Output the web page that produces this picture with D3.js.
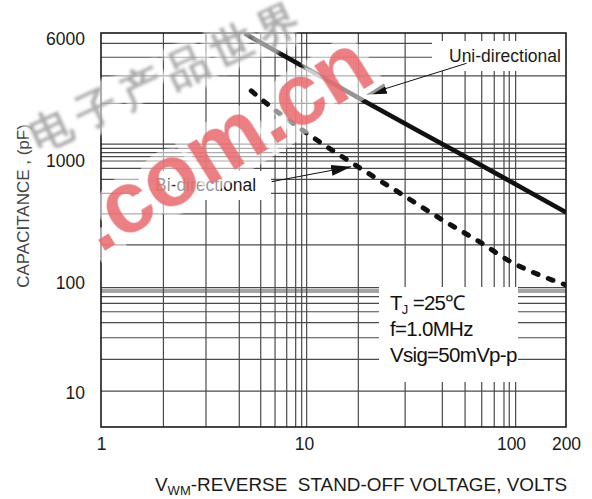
<!DOCTYPE html>
<html><head><meta charset="utf-8">
<script src="https://cdn.jsdelivr.net/npm/d3@7"></script>
<style>
body{margin:0;background:#fff}
svg{display:block}
text{font-family:"Liberation Sans",Arial,Helvetica,sans-serif}
</style>
</head><body>
<svg id="c" width="592" height="499"></svg>
<script>
// ---- data ----
const xTicks = [1, 10, 100, 200];
const yTicks = [10, 100, 1000, 6000];
// vertical grid lines of the log paper (volts)
const xGrid = [2.03, 3.29, 4.80, 6.12, 7.20, 8.22, 9.10, 9.74, 10.3, 18.3, 30.8, 46.6, 60, 72.2, 83, 92.5, 98.1, 106];
// horizontal grid lines of the log paper (pF)
const yGrid = [5630, 4590, 3490, 2330, 1280, 1205, 1130, 1065, 1000, 871, 708, 543, 368, 205,
               90.6, 86.4, 82.8, 75.1, 65.4, 54.8, 43.6, 31.8, 20.2, 10.4];
// Uni-directional capacitance
const uniVolts = [5.1, 10, 20, 50, 100, 200];
const uniPF    = [6500, 3980, 2370, 1220, 677, 380];
// Bi-directional capacitance
const biVolts = [5.5, 7, 10, 20, 30, 50, 70, 100, 150, 200];
const biPF    = [2800, 2170, 1550, 812, 527, 306, 219, 149, 113, 96];
const conditionLines = ["f=1.0MHz", "Vsig=50mVp-p"];

// ---- layout ----
const svg = d3.select("#c");
const L = 101, R = 566, T = 33, B = 427;

const x = d3.scaleLog().domain([1, 10, 100, 200]).range([101, 304, 511, 566]);
const y = d3.scaleLog().domain([6000, 1000, 100, 10]).range([39, 161, 283, 393]);

const defs = svg.append("defs");
defs.append("clipPath").attr("id", "clip")
  .append("rect").attr("x", L).attr("y", T).attr("width", R - L).attr("height", B - T);

// grid
const grid = svg.append("g").attr("stroke", "#4a4a4a").attr("stroke-width", 1.2);
grid.selectAll("line.v").data(xGrid).join("line")
  .attr("x1", d => x(d)).attr("x2", d => x(d)).attr("y1", T).attr("y2", B);
grid.selectAll("line.h").data(yGrid).join("line")
  .attr("y1", d => y(d)).attr("y2", d => y(d)).attr("x1", L).attr("x2", R);

// white label boxes that interrupt the grid
svg.append("rect").attr("x", 432).attr("y", 41).attr("width", R - 432).attr("height", 30).attr("fill", "#fff");
svg.append("rect").attr("x", 139).attr("y", 171).attr("width", 132).attr("height", 29).attr("fill", "#fff");
svg.append("rect").attr("x", 379).attr("y", 287).attr("width", 139).attr("height", 95).attr("fill", "#fff");

// frame
svg.append("rect").attr("x", L).attr("y", T).attr("width", R - L).attr("height", B - T)
  .attr("fill", "none").attr("stroke", "#1a1a1a").attr("stroke-width", 1.6);

// axes
const ya = svg.append("g").attr("transform", `translate(${L},0)`)
  .call(d3.axisLeft(y).tickValues(yTicks).tickSize(0).tickPadding(16).tickFormat(d3.format("d")));
ya.select(".domain").remove();
ya.selectAll("text").attr("font-size", 17.5).attr("fill", "#1a1a1a").attr("font-family", "Liberation Sans, Arial, sans-serif");

const xa = svg.append("g").attr("transform", `translate(0,${B})`)
  .call(d3.axisBottom(x).tickValues(xTicks).tickSize(0).tickPadding(10.5).tickFormat(d3.format("d")));
xa.select(".domain").remove();
xa.selectAll("text").attr("font-size", 17.5).attr("fill", "#1a1a1a").attr("font-family", "Liberation Sans, Arial, sans-serif");

// curves
const line = d3.line().x(d => x(d[0])).y(d => y(d[1])).curve(d3.curveMonotoneX);
const curves = svg.append("g").attr("clip-path", "url(#clip)");
curves.append("path").datum(uniVolts.map((v, i) => [v, uniPF[i]]))
  .attr("d", line).attr("fill", "none").attr("stroke", "#111").attr("stroke-width", 4.6);
curves.append("path").datum(biVolts.map((v, i) => [v, biPF[i]]))
  .attr("d", line).attr("fill", "none").attr("stroke", "#111").attr("stroke-width", 5)
  .attr("stroke-dasharray", "5,11").attr("stroke-linecap", "round");

// arrows
defs.append("marker").attr("id", "ah").attr("viewBox", "0 -6 20 12")
  .attr("refX", 20).attr("refY", 0).attr("markerWidth", 20).attr("markerHeight", 12)
  .attr("markerUnits", "userSpaceOnUse").attr("orient", "auto")
  .append("path").attr("d", "M0,-5.5L20,0L0,5.5Z").attr("fill", "#111");
const arrows = [
  {from: [61, 4200], to: [20.1, 2655]},
  {from: [6.93, 677], to: [16.9, 898]}
];
svg.selectAll("line.arrow").data(arrows).join("line")
  .attr("x1", d => x(d.from[0])).attr("y1", d => y(d.from[1]))
  .attr("x2", d => x(d.to[0])).attr("y2", d => y(d.to[1]))
  .attr("stroke", "#111").attr("stroke-width", 1).attr("marker-end", "url(#ah)");

// labels
svg.append("text").attr("x", 449).attr("y", 62).attr("font-size", 17.5).attr("fill", "#1a1a1a").text("Uni-directional");
svg.append("text").attr("x", 155).attr("y", 191).attr("font-size", 17.5).attr("fill", "#1a1a1a").text("Bi-directional");

const cond = svg.append("g").attr("fill", "#111").attr("font-size", 20.5).attr("letter-spacing", -0.7);
const t1 = cond.append("text").attr("x", 390).attr("y", 310);
t1.append("tspan").text("T");
t1.append("tspan").attr("font-size", 13).attr("dy", 4).text("J");
t1.append("tspan").attr("dy", -4).text("\u00a0=25\u2103");
cond.selectAll("text.c").data(conditionLines).join("text").attr("class", "c")
  .attr("x", 390).attr("y", (d, i) => 336 + i * 25.7).text(d => d);

// axis titles
svg.append("text").attr("transform", "translate(29,206) rotate(-90)").attr("text-anchor", "middle")
  .attr("font-size", 17).attr("fill", "#444").text("CAPACITANCE , (pF)");
const xt = svg.append("text").attr("x", 155).attr("y", 491).attr("font-size", 18.9).attr("fill", "#1a1a1a");
xt.append("tspan").text("V");
xt.append("tspan").attr("font-size", 13).attr("dy", 4).text("WM");
xt.append("tspan").attr("dy", -4).text("-REVERSE\u00a0 STAND-OFF VOLTAGE, VOLTS");

// watermark (drawn over the chart, as in the reference)
defs.append("filter").attr("id", "blur").append("feGaussianBlur").attr("stdDeviation", 1.6);
defs.append("filter").attr("id", "blur2").append("feGaussianBlur").attr("stdDeviation", 0.7);
svg.append("text").attr("transform", "translate(38,152) rotate(-25)")
  .attr("font-size", 42).attr("letter-spacing", 8).attr("font-family", "Noto Sans CJK SC").attr("font-weight", "bold")
  .attr("fill", "#979797").attr("fill-opacity", 0.8)
  .attr("stroke", "#fff").attr("stroke-width", 12).attr("stroke-opacity", 0.55)
  .attr("paint-order", "stroke").attr("filter", "url(#blur)").text("电子产品世界");
svg.append("text").attr("transform", "translate(100,254) rotate(-32)")
  .attr("font-size", 87).attr("font-weight", "bold")
  .attr("fill", "#e8686c").attr("fill-opacity", 0.85)
  .attr("stroke", "#fff").attr("stroke-width", 18).attr("stroke-opacity", 0.55)
  .attr("paint-order", "stroke").attr("filter", "url(#blur2)").text(".com.cn");
</script>
</body></html>
